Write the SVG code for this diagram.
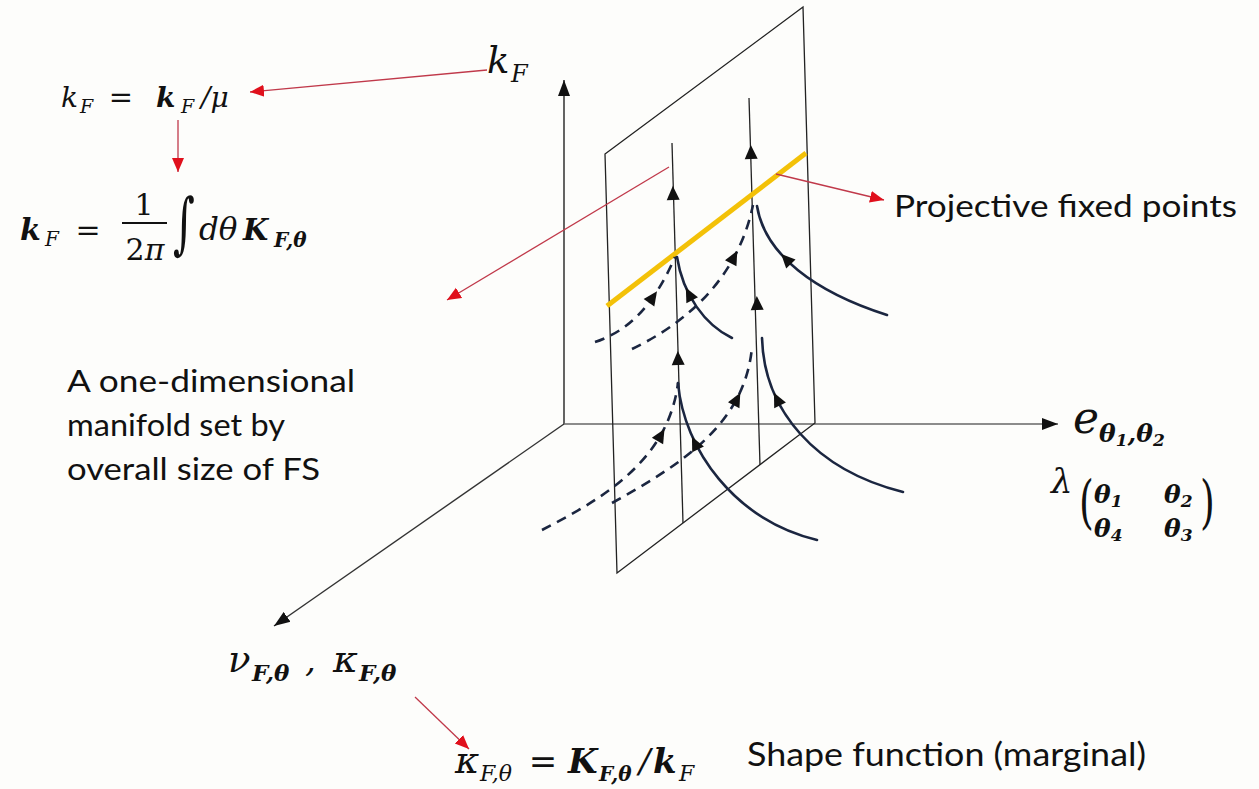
<svg xmlns="http://www.w3.org/2000/svg" width="1259" height="789" viewBox="0 0 1259 789">
<style>
.m{font-family:"DejaVu Serif","Liberation Serif",serif;font-style:italic;fill:#111}
.mb{font-family:"DejaVu Serif","Liberation Serif",serif;font-style:italic;font-weight:bold;fill:#111}
.up{font-family:"DejaVu Serif","Liberation Serif",serif;fill:#111}
.t{font-family:Lato,"Open Sans","Liberation Sans",sans-serif;fill:#111}
.ax{stroke-width:1.4;fill:none}
.pl{stroke:#222;stroke-width:1.3;fill:none}
.cv{stroke:#1b2640;stroke-width:2.6;fill:none;stroke-linecap:round}
.dash{stroke-dasharray:10 7;stroke-linecap:butt}
.red{stroke:#c0394a;stroke-width:1.3;fill:none}
.ah{fill:#111}
</style>
<defs>
<marker id="redArrow" markerUnits="userSpaceOnUse" markerWidth="16" markerHeight="14" refX="14" refY="7" orient="auto"><path d="M0,1 L14,7 L0,13 Z" fill="#e0101c"/></marker>
<marker id="blkArrow" markerUnits="userSpaceOnUse" markerWidth="18" markerHeight="14" refX="16" refY="7" orient="auto"><path d="M0,1 L16,7 L0,13 Z" fill="#111"/></marker>
<path id="tri" d="M7,0 L-7,-6.5 L-7,6.5 Z"/>
</defs>
<rect width="1259" height="789" fill="#fdfdfb"/>

<g id="axes">
<line class="ax" x1="564" y1="424" x2="564" y2="80" stroke="#222" marker-end="url(#blkArrow)"/>
<line class="ax" x1="564" y1="424" x2="1058" y2="424" stroke="#666" marker-end="url(#blkArrow)"/>
<line class="ax" x1="564" y1="424" x2="274" y2="626" stroke="#333" marker-end="url(#blkArrow)"/>
</g>

<g id="plane">
<polygon class="pl" points="605,154 803,7 815,423 617,573"/>
<line class="pl" x1="672" y1="143" x2="683" y2="523"/>
<line class="pl" x1="749" y1="98" x2="760" y2="465"/>
<use href="#tri" class="ah" transform="translate(673,193) rotate(-91.7)"/>
<use href="#tri" class="ah" transform="translate(678,358) rotate(-91.7)"/>
<use href="#tri" class="ah" transform="translate(751,152) rotate(-91.7)"/>
<use href="#tri" class="ah" transform="translate(757,303) rotate(-91.7)"/>
</g>

<g id="fixed-line">
<line x1="607" y1="306" x2="806" y2="153" stroke="#f3c108" stroke-width="5"/>
</g>

<g id="flow-curves">
<path class="cv dash" d="M595,342 C625,332 652,310 675,257"/>
<path class="cv" d="M677,257 C683,295 705,325 732,338"/>
<path class="cv dash" d="M632,349 C682,325 737,282 753,205"/>
<path class="cv" d="M757,206 C765,255 815,292 887,315"/>
<path class="cv dash" d="M542,530 C600,500 668,462 678,383"/>
<path class="cv" d="M678,383 C684,450 735,520 817,540"/>
<path class="cv dash" d="M612,503 C680,465 745,425 752,347"/>
<path class="cv" d="M762,338 C764,410 815,470 903,492"/>
<use href="#tri" class="ah" transform="translate(653,297) rotate(-55)"/>
<use href="#tri" class="ah" transform="translate(689,294) rotate(-117)"/>
<use href="#tri" class="ah" transform="translate(734,257) rotate(-62)"/>
<use href="#tri" class="ah" transform="translate(786,259) rotate(-134)"/>
<use href="#tri" class="ah" transform="translate(661,435) rotate(-60)"/>
<use href="#tri" class="ah" transform="translate(695,443) rotate(-116)"/>
<use href="#tri" class="ah" transform="translate(737,399) rotate(-62)"/>
<use href="#tri" class="ah" transform="translate(777,399) rotate(-116)"/>
</g>

<g id="connectors">
<line class="red" x1="487" y1="70" x2="250" y2="92" marker-end="url(#redArrow)"/>
<line class="red" x1="178" y1="120" x2="178" y2="172" marker-end="url(#redArrow)"/>
<line class="red" x1="669" y1="167" x2="447" y2="300" marker-end="url(#redArrow)"/>
<line class="red" x1="776" y1="174" x2="884" y2="200" marker-end="url(#redArrow)"/>
<line class="red" x1="415" y1="697" x2="469" y2="749" marker-end="url(#redArrow)"/>
</g>

<g id="label-kF-top">
<text class="m" x="487" y="73" font-size="37">k</text>
<text class="m" x="511" y="82" font-size="24">F</text>
</g>

<g id="eq-kF-mu">
<text class="m" x="61" y="107" font-size="28">k</text>
<text class="m" x="80" y="113" font-size="19">F</text>
<text class="up" x="121" y="107" font-size="29" text-anchor="middle">=</text>
<text class="mb" x="156" y="107" font-size="28">k</text>
<text class="m" x="181" y="113" font-size="19">F</text>
<text class="m" x="201" y="107" font-size="28">/μ</text>
</g>

<g id="eq-kF-integral">
<text class="mb" x="20" y="240" font-size="30">k</text>
<text class="m" x="45" y="246" font-size="20">F</text>
<text class="up" x="88" y="240" font-size="30" text-anchor="middle">=</text>
<text class="up" x="144" y="215" font-size="30" text-anchor="middle">1</text>
<line x1="122" y1="223" x2="167" y2="223" stroke="#111" stroke-width="1.8"/>
<text class="up" x="145" y="260" font-size="30" text-anchor="middle">2<tspan class="m">π</tspan></text>
<text class="up" transform="translate(173,246) scale(1,1.6)" font-size="42">∫</text>
<text class="m" x="199" y="240" font-size="31">dθ</text>
<text class="mb" x="243" y="240" font-size="29">K</text>
<text class="mb" x="274" y="247" font-size="20">F,θ</text>
</g>

<g id="label-manifold">
<text class="t" x="67" y="392" font-size="31" textLength="288" lengthAdjust="spacingAndGlyphs">A one-dimensional</text>
<text class="t" x="67" y="436" font-size="31" textLength="218" lengthAdjust="spacingAndGlyphs">manifold set by</text>
<text class="t" x="67" y="480" font-size="31" textLength="253" lengthAdjust="spacingAndGlyphs">overall size of FS</text>
</g>

<g id="label-projective">
<text class="t" x="894" y="217" font-size="31" textLength="343" lengthAdjust="spacingAndGlyphs">Projective fixed points</text>
</g>

<g id="label-e">
<text class="m" x="1073" y="433" font-size="44">e</text>
<text class="mb" x="1099" y="442" font-size="25">θ<tspan font-size="17" dy="4">1</tspan><tspan dy="-4">,θ</tspan><tspan font-size="17" dy="4">2</tspan></text>
</g>

<g id="label-lambda">
<text class="m" x="1051" y="493" font-size="34">λ</text>
<text class="up" transform="translate(1079,522) scale(1,1.5)" font-size="38">(</text>
<text class="mb" x="1094" y="503" font-size="25">θ<tspan font-size="17" dy="4">1</tspan></text>
<text class="mb" x="1164" y="503" font-size="25">θ<tspan font-size="17" dy="4">2</tspan></text>
<text class="mb" x="1094" y="537" font-size="25">θ<tspan font-size="17" dy="4">4</tspan></text>
<text class="mb" x="1164" y="537" font-size="25">θ<tspan font-size="17" dy="4">3</tspan></text>
<text class="up" transform="translate(1200,522) scale(1,1.5)" font-size="38">)</text>
</g>

<g id="label-nu-kappa">
<text class="m" x="228" y="672" font-size="37">ν</text>
<text class="mb" x="252" y="681" font-size="23">F,θ</text>
<text class="m" x="305" y="672" font-size="34">,</text>
<text class="m" x="333" y="672" font-size="38">κ</text>
<text class="mb" x="359" y="681" font-size="23">F,θ</text>
</g>

<g id="eq-shape">
<text class="m" x="455" y="773" font-size="37">κ</text>
<text class="m" x="480" y="781" font-size="22">F,θ</text>
<text class="up" x="543" y="773" font-size="34" text-anchor="middle">=</text>
<text class="mb" x="568" y="773" font-size="34">K</text>
<text class="mb" x="599" y="781" font-size="20">F,θ</text>
<text class="m" x="639" y="773" font-size="34">/</text>
<text class="mb" x="653" y="773" font-size="34">k</text>
<text class="m" x="679" y="781" font-size="22">F</text>
<text class="t" x="747" y="766" font-size="32" textLength="399" lengthAdjust="spacingAndGlyphs">Shape function (marginal)</text>
</g>
</svg>
